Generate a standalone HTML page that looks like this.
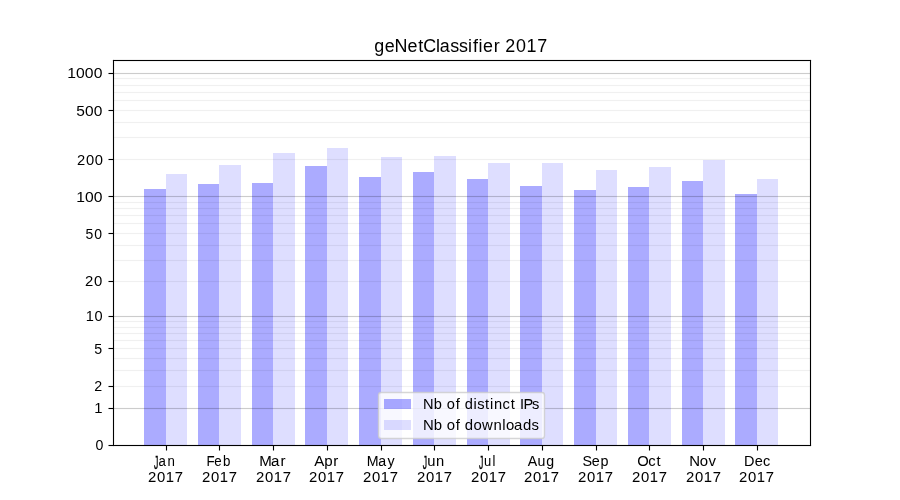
<!DOCTYPE html>
<html lang="en"><head><meta charset="utf-8"><title>geNetClassifier 2017</title>
<style>html,body{margin:0;padding:0;background:#fff;}body{width:900px;height:500px;overflow:hidden;}svg{display:block;will-change:transform;}text{font-family:"Liberation Sans",sans-serif;fill:#000;}</style>
</head><body>
<svg width="900" height="500" viewBox="0 0 900 500">
<rect width="900" height="500" fill="#fff"/>
<g shape-rendering="crispEdges">
<g fill="#00f"><path fill-opacity="0.33" d="M144 189h22v256h-22zM198 184h21v261h-21zM252 183h21v262h-21zM305 166h22v279h-22zM359 177h22v268h-22zM413 172h21v273h-21zM467 179h21v266h-21zM520 186h22v259h-22zM574 190h22v255h-22zM628 187h21v258h-21zM682 181h21v264h-21zM735 194h22v251h-22z"/><path fill-opacity="0.13" d="M166 174h21v271h-21zM219 165h22v280h-22zM273 153h22v292h-22zM327 148h21v297h-21zM381 157h21v288h-21zM434 156h22v289h-22zM488 163h22v282h-22zM542 163h21v282h-21zM596 170h21v275h-21zM649 167h22v278h-22zM703 160h22v285h-22zM757 179h21v266h-21z"/></g>
<g fill="#000"><path fill-opacity="0.2" d="M114 408h696v1h-696zM114 316h696v1h-696zM114 196h696v1h-696zM114 73h696v1h-696z"/><path fill-opacity="0.0118" d="M114 407h696v1h-696zM114 409h696v1h-696zM114 315h696v1h-696zM114 317h696v1h-696zM114 195h696v1h-696zM114 197h696v1h-696zM114 72h696v1h-696zM114 74h696v1h-696z"/><path fill-opacity="0.0588" d="M114 386h696v1h-696zM114 370h696v1h-696zM114 358h696v1h-696zM114 348h696v1h-696zM114 340h696v1h-696zM114 333h696v1h-696zM114 327h696v1h-696zM114 321h696v1h-696zM114 281h696v1h-696zM114 260h696v1h-696zM114 245h696v1h-696zM114 233h696v1h-696zM114 223h696v1h-696zM114 215h696v1h-696zM114 208h696v1h-696zM114 202h696v1h-696zM114 159h696v1h-696zM114 137h696v1h-696zM114 122h696v1h-696zM114 110h696v1h-696zM114 100h696v1h-696zM114 92h696v1h-696zM114 85h696v1h-696zM114 78h696v1h-696z"/><path fill-opacity="0.0039" d="M114 385h696v1h-696zM114 387h696v1h-696zM114 369h696v1h-696zM114 371h696v1h-696zM114 357h696v1h-696zM114 359h696v1h-696zM114 347h696v1h-696zM114 349h696v1h-696zM114 339h696v1h-696zM114 341h696v1h-696zM114 332h696v1h-696zM114 334h696v1h-696zM114 326h696v1h-696zM114 328h696v1h-696zM114 320h696v1h-696zM114 322h696v1h-696zM114 280h696v1h-696zM114 282h696v1h-696zM114 259h696v1h-696zM114 261h696v1h-696zM114 244h696v1h-696zM114 246h696v1h-696zM114 232h696v1h-696zM114 234h696v1h-696zM114 222h696v1h-696zM114 224h696v1h-696zM114 214h696v1h-696zM114 216h696v1h-696zM114 207h696v1h-696zM114 209h696v1h-696zM114 201h696v1h-696zM114 203h696v1h-696zM114 158h696v1h-696zM114 160h696v1h-696zM114 136h696v1h-696zM114 138h696v1h-696zM114 121h696v1h-696zM114 123h696v1h-696zM114 109h696v1h-696zM114 111h696v1h-696zM114 99h696v1h-696zM114 101h696v1h-696zM114 91h696v1h-696zM114 93h696v1h-696zM114 84h696v1h-696zM114 86h696v1h-696zM114 77h696v1h-696zM114 79h696v1h-696z"/>
<path d="M109 445h4v1h-4zM109 408h4v1h-4zM109 386h4v1h-4zM109 348h4v1h-4zM109 316h4v1h-4zM109 281h4v1h-4zM109 233h4v1h-4zM109 196h4v1h-4zM109 159h4v1h-4zM109 110h4v1h-4zM109 73h4v1h-4zM166 446h1v4h-1zM219 446h1v4h-1zM273 446h1v4h-1zM327 446h1v4h-1zM381 446h1v4h-1zM434 446h1v4h-1zM488 446h1v4h-1zM542 446h1v4h-1zM596 446h1v4h-1zM649 446h1v4h-1zM703 446h1v4h-1zM757 446h1v4h-1z"/><path fill-opacity="0.5" d="M108 445h1v1h-1zM108 408h1v1h-1zM108 386h1v1h-1zM108 348h1v1h-1zM108 316h1v1h-1zM108 281h1v1h-1zM108 233h1v1h-1zM108 196h1v1h-1zM108 159h1v1h-1zM108 110h1v1h-1zM108 73h1v1h-1zM166 450h1v1h-1zM219 450h1v1h-1zM273 450h1v1h-1zM327 450h1v1h-1zM381 450h1v1h-1zM434 450h1v1h-1zM488 450h1v1h-1zM542 450h1v1h-1zM596 450h1v1h-1zM649 450h1v1h-1zM703 450h1v1h-1zM757 450h1v1h-1z"/><path fill-opacity="0.055" d="M109 444h4v1h-4zM109 446h4v1h-4zM109 407h4v1h-4zM109 409h4v1h-4zM109 385h4v1h-4zM109 387h4v1h-4zM109 347h4v1h-4zM109 349h4v1h-4zM109 315h4v1h-4zM109 317h4v1h-4zM109 280h4v1h-4zM109 282h4v1h-4zM109 232h4v1h-4zM109 234h4v1h-4zM109 195h4v1h-4zM109 197h4v1h-4zM109 158h4v1h-4zM109 160h4v1h-4zM109 109h4v1h-4zM109 111h4v1h-4zM109 72h4v1h-4zM109 74h4v1h-4zM165 446h1v4h-1zM167 446h1v4h-1zM218 446h1v4h-1zM220 446h1v4h-1zM272 446h1v4h-1zM274 446h1v4h-1zM326 446h1v4h-1zM328 446h1v4h-1zM380 446h1v4h-1zM382 446h1v4h-1zM433 446h1v4h-1zM435 446h1v4h-1zM487 446h1v4h-1zM489 446h1v4h-1zM541 446h1v4h-1zM543 446h1v4h-1zM595 446h1v4h-1zM597 446h1v4h-1zM648 446h1v4h-1zM650 446h1v4h-1zM702 446h1v4h-1zM704 446h1v4h-1zM756 446h1v4h-1zM758 446h1v4h-1z"/><path fill-opacity="0.0275" d="M108 444h1v1h-1zM108 446h1v1h-1zM108 407h1v1h-1zM108 409h1v1h-1zM108 385h1v1h-1zM108 387h1v1h-1zM108 347h1v1h-1zM108 349h1v1h-1zM108 315h1v1h-1zM108 317h1v1h-1zM108 280h1v1h-1zM108 282h1v1h-1zM108 232h1v1h-1zM108 234h1v1h-1zM108 195h1v1h-1zM108 197h1v1h-1zM108 158h1v1h-1zM108 160h1v1h-1zM108 109h1v1h-1zM108 111h1v1h-1zM108 72h1v1h-1zM108 74h1v1h-1zM165 450h1v1h-1zM167 450h1v1h-1zM218 450h1v1h-1zM220 450h1v1h-1zM272 450h1v1h-1zM274 450h1v1h-1zM326 450h1v1h-1zM328 450h1v1h-1zM380 450h1v1h-1zM382 450h1v1h-1zM433 450h1v1h-1zM435 450h1v1h-1zM487 450h1v1h-1zM489 450h1v1h-1zM541 450h1v1h-1zM543 450h1v1h-1zM595 450h1v1h-1zM597 450h1v1h-1zM648 450h1v1h-1zM650 450h1v1h-1zM702 450h1v1h-1zM704 450h1v1h-1zM756 450h1v1h-1zM758 450h1v1h-1z"/>
<path d="M113 60h1v386h-1zM810 60h1v386h-1zM114 60h696v1h-696zM114 445h696v1h-696z"/>
<path fill-opacity="0.055" d="M112 60h1v386h-1zM114 61h1v384h-1zM809 61h1v384h-1zM811 60h1v386h-1zM113 59h698v1h-698zM115 61h694v1h-694zM115 444h694v1h-694zM113 446h698v1h-698z"/>
<path fill-opacity="0.055" d="M113 59h1v1h-1zM810 59h1v1h-1zM112 60h1v1h-1zM811 60h1v1h-1zM811 445h1v1h-1zM113 446h1v1h-1zM810 446h1v1h-1zM112 445h1v1h-1z"/>
</g></g>
<rect x="378.5" y="392.5" width="166" height="46" rx="2.78" ry="2.78" fill="#fff" fill-opacity="0.79" stroke="#ccc" stroke-opacity="0.8" stroke-width="1.389"/>
<g shape-rendering="crispEdges"><rect x="384" y="399" width="27" height="10" fill="#00f" fill-opacity="0.33"/>
<rect x="384" y="420" width="27" height="10" fill="#00f" fill-opacity="0.13"/></g>
<text transform="translate(0 51.944) scale(1.0544 1.0517)" x="354.89 364.87 374.18 386.37 396.60 401.37 413.40 416.99 427.12 435.33 443.88 448.57 453.81 458.05 468.29 474.06 479.16 489.40 499.35 509.44" y="0" font-size="17" stroke="#000" stroke-width="0.007">geNetClassifier 2017</text>
<text transform="translate(0 449.968) scale(0.9954 1.0177)" x="95.91" y="0" font-size="14.2">0</text>
<text transform="translate(0 412.961) scale(1.0480 1.0177)" x="90.05" y="0" font-size="14.2">1</text>
<text transform="translate(0 390.984) scale(1.0040 1.0177)" x="93.78" y="0" font-size="14.2">2</text>
<text transform="translate(0 354.206) scale(1.0003 1.0177)" x="94.21" y="0" font-size="14.2">5</text>
<text transform="translate(0 320.953) scale(1.0277 1.0177)" x="83.35 92.01" y="0" font-size="14.2">10</text>
<text transform="translate(0 285.972) scale(1.0495 1.0177)" x="80.96 89.54" y="0" font-size="14.2">20</text>
<text transform="translate(0 239.103) scale(0.9873 1.0177)" x="86.59 95.58" y="0" font-size="14.2">50</text>
<text transform="translate(0 201.953) scale(1.1039 1.0177)" x="68.98 77.06 85.05" y="0" font-size="14.2">100</text>
<text transform="translate(0 164.969) scale(1.0404 1.0177)" x="74.02 82.68 91.16" y="0" font-size="14.2">200</text>
<text transform="translate(0 116.063) scale(1.0912 1.0177)" x="69.81 77.95 86.04" y="0" font-size="14.2">500</text>
<text transform="translate(0 77.956) scale(1.1061 1.0177)" x="60.69 68.75 76.74 84.72" y="0" font-size="14.2">1000</text>
<text transform="translate(0 466.479) scale(0.9330 0.9888)" y="0" font-size="14.2" stroke="#000" stroke-width="0.025"><tspan x="165.18" dy="2.63" font-size="18.85" textLength="4.65" lengthAdjust="spacingAndGlyphs" stroke="#000" stroke-width="0.36">J</tspan><tspan x="169.77 179.60" dy="-2.63">an</tspan></text>
<text transform="translate(0 482.070) scale(1.0475 1.0206)" x="141.35 149.95 158.30 166.78" y="0" font-size="14.2" stroke="#000" stroke-width="0.031">2017</text>
<text transform="translate(0 466.479) scale(0.9383 0.9888)" x="220.03 228.45 237.77" y="0" font-size="14.2" stroke="#000" stroke-width="0.025">Feb</text>
<text transform="translate(0 482.070) scale(1.0475 1.0206)" x="192.90 201.50 209.85 218.33" y="0" font-size="14.2" stroke="#000" stroke-width="0.031">2017</text>
<text transform="translate(0 466.479) scale(1.0632 0.9888)" x="243.74 254.83 263.84" y="0" font-size="14.2" stroke="#000" stroke-width="0.025">Mar</text>
<text transform="translate(0 482.070) scale(1.0475 1.0206)" x="244.45 253.05 261.41 269.88" y="0" font-size="14.2" stroke="#000" stroke-width="0.031">2017</text>
<text transform="translate(0 466.479) scale(1.0655 0.9888)" x="294.87 304.32 312.87" y="0" font-size="14.2" stroke="#000" stroke-width="0.025">Apr</text>
<text transform="translate(0 482.070) scale(1.0475 1.0206)" x="295.05 303.65 312.00 320.48" y="0" font-size="14.2" stroke="#000" stroke-width="0.031">2017</text>
<text transform="translate(0 466.479) scale(0.9996 0.9888)" x="366.78 378.46 387.73" y="0" font-size="14.2" stroke="#000" stroke-width="0.025">May</text>
<text transform="translate(0 482.070) scale(1.0475 1.0206)" x="346.60 355.20 363.56 372.03" y="0" font-size="14.2" stroke="#000" stroke-width="0.031">2017</text>
<text transform="translate(0 466.479) scale(1.0376 0.9888)" y="0" font-size="14.2" stroke="#000" stroke-width="0.025"><tspan x="407.41" dy="2.63" font-size="18.85" textLength="4.18" lengthAdjust="spacingAndGlyphs" stroke="#000" stroke-width="0.36">J</tspan><tspan x="411.73 420.26" dy="-2.63">un</tspan></text>
<text transform="translate(0 482.070) scale(1.0475 1.0206)" x="398.15 406.76 415.11 423.58" y="0" font-size="14.2" stroke="#000" stroke-width="0.031">2017</text>
<text transform="translate(0 466.479) scale(0.9139 0.9888)" y="0" font-size="14.2" stroke="#000" stroke-width="0.025"><tspan x="524.12" dy="2.63" font-size="18.85" textLength="4.75" lengthAdjust="spacingAndGlyphs" stroke="#000" stroke-width="0.36">J</tspan><tspan x="529.55 538.88" dy="-2.63">ul</tspan></text>
<text transform="translate(0 482.070) scale(1.0475 1.0206)" x="449.71 458.31 466.66 475.14" y="0" font-size="14.2" stroke="#000" stroke-width="0.031">2017</text>
<text transform="translate(0 466.479) scale(0.9968 0.9888)" x="529.42 539.35 548.12" y="0" font-size="14.2" stroke="#000" stroke-width="0.025">Aug</text>
<text transform="translate(0 482.070) scale(1.0475 1.0206)" x="500.30 508.91 517.26 525.73" y="0" font-size="14.2" stroke="#000" stroke-width="0.031">2017</text>
<text transform="translate(0 466.479) scale(1.0109 0.9888)" x="576.18 585.50 594.14" y="0" font-size="14.2" stroke="#000" stroke-width="0.025">Sep</text>
<text transform="translate(0 482.070) scale(1.0475 1.0206)" x="551.86 560.46 568.81 577.29" y="0" font-size="14.2" stroke="#000" stroke-width="0.031">2017</text>
<text transform="translate(0 466.479) scale(1.0397 0.9888)" x="612.84 623.57 631.56" y="0" font-size="14.2" stroke="#000" stroke-width="0.025">Oct</text>
<text transform="translate(0 482.070) scale(1.0475 1.0206)" x="603.41 612.01 620.36 628.84" y="0" font-size="14.2" stroke="#000" stroke-width="0.031">2017</text>
<text transform="translate(0 466.479) scale(1.0525 0.9888)" x="654.79 664.94 673.27" y="0" font-size="14.2" stroke="#000" stroke-width="0.025">Nov</text>
<text transform="translate(0 482.070) scale(1.0475 1.0206)" x="654.96 663.56 671.92 680.39" y="0" font-size="14.2" stroke="#000" stroke-width="0.031">2017</text>
<text transform="translate(0 466.479) scale(1.0206 0.9888)" x="728.88 739.48 747.61" y="0" font-size="14.2" stroke="#000" stroke-width="0.025">Dec</text>
<text transform="translate(0 482.070) scale(1.0475 1.0206)" x="705.56 714.16 722.51 730.99" y="0" font-size="14.2" stroke="#000" stroke-width="0.031">2017</text>
<text transform="translate(0 409.031) scale(1.0307 1.0102)" x="410.34 420.91 429.04 433.50 442.13 446.30 450.83 459.43 462.92 470.51 475.46 479.25 487.42 495.46 500.11 504.40 507.91 516.29" y="0" font-size="14.2" stroke="#000" stroke-width="0.009">Nb of distinct IPs</text>
<text transform="translate(0 429.977) scale(1.0509 1.0402)" x="402.46 412.85 420.90 425.20 433.70 437.83 442.19 450.50 458.75 469.55 477.91 481.41 488.99 497.65 505.85" y="0" font-size="14.2">Nb of downloads</text>
</svg></body></html>
